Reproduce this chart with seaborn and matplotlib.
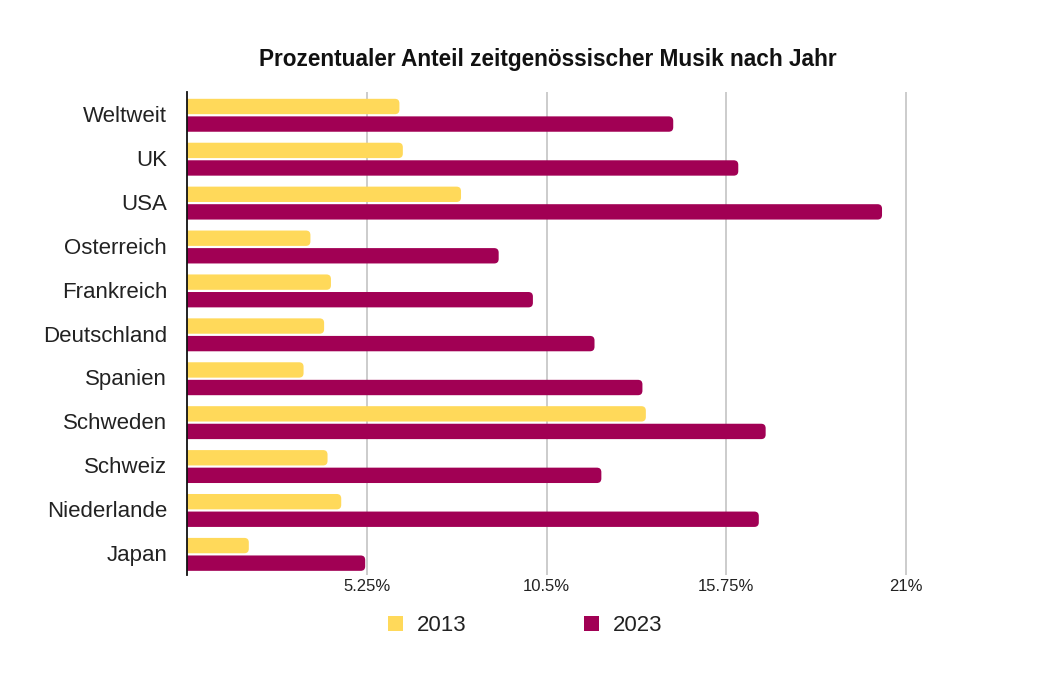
import matplotlib
matplotlib.use("Agg")
import matplotlib.pyplot as plt
import seaborn as sns
import pandas as pd
from matplotlib.patches import FancyBboxPatch, Patch
from matplotlib.ticker import FixedLocator

countries = ["Weltweit", "UK", "USA", "Osterreich", "Frankreich", "Deutschland",
             "Spanien", "Schweden", "Schweiz", "Niederlande", "Japan"]
values_2013 = [6.2, 6.3, 8.0, 3.6, 4.2, 4.0, 3.4, 13.4, 4.1, 4.5, 1.8]
values_2023 = [14.2, 16.1, 20.3, 9.1, 10.1, 11.9, 13.3, 16.9, 12.1, 16.7, 5.2]
years = ["2013", "2023"]
tick_values = [5.25, 10.5, 15.75, 21]
tick_labels = ["5.25%", "10.5%", "15.75%", "21%"]
title = "Prozentualer Anteil zeitgenössischer Musik nach Jahr"

colors = {"2013": "#FFD95A", "2023": "#A10054"}

df = pd.DataFrame({
    "Land": countries * 2,
    "Jahr": ["2013"] * len(countries) + ["2023"] * len(countries),
    "Anteil": values_2013 + values_2023,
})

sns.set_theme(style="white")
plt.rcParams["font.family"] = ["Liberation Sans", "DejaVu Sans"]

fig = plt.figure(figsize=(10.4, 6.8), dpi=100)
ax = fig.add_axes([0.18, 0.1544, 0.78, 0.7103])

sns.barplot(data=df, y="Land", x="Anteil", hue="Jahr", order=countries,
            hue_order=years, palette=colors, orient="h", width=0.8,
            ax=ax, legend=False, saturation=1)

ax.set_xlim(0, 23.7)
ax.set_ylim(len(countries) - 0.5, -0.5)

# replace bars with rounded-end versions
px_x = 34.33
px_y = 43.9
r = 4.5 / px_x
aspect = (4.5 / px_y) / r
old = list(ax.patches)
for p in old:
    x0 = p.get_x()
    w = p.get_width()
    h = p.get_height()
    cy = p.get_y() + h / 2 + 0.03
    nh = 0.35
    fc = p.get_facecolor()
    p.remove()
    fb = FancyBboxPatch((x0 - 0.3, cy - nh / 2), w + 0.3, nh,
                        boxstyle=f"round,pad=0,rounding_size={r}",
                        mutation_aspect=aspect, facecolor=fc, edgecolor="none",
                        linewidth=0, zorder=2)
    ax.add_patch(fb)

ax.xaxis.set_major_locator(FixedLocator(tick_values))
ax.set_xticklabels(tick_labels)
ax.grid(axis="x", color="#c4c4c4", linewidth=1.2, zorder=0)
ax.grid(axis="y", visible=False)
ax.set_axisbelow(True)

for s in ["top", "right", "bottom"]:
    ax.spines[s].set_visible(False)
ax.spines["left"].set_color("#111111")
ax.spines["left"].set_linewidth(1.3)
ax.spines["left"].set_zorder(5)

ax.tick_params(axis="y", length=0, pad=14.5, labelsize=16, labelcolor="#222222")
ax.tick_params(axis="x", length=0, pad=3, labelsize=12, labelcolor="#222222")
ax.set_xlabel("")
ax.set_ylabel("")

fig.text(0.527, 0.912, title, ha="center", va="center", fontsize=16.3,
         fontweight="bold", color="#111111")

handles = [Patch(facecolor=colors[y], edgecolor="none") for y in years]
fig.legend(handles, years, loc="center", bbox_to_anchor=(0.505, 0.08), ncol=2,
           frameon=False, fontsize=16, handlelength=0.68, handleheight=0.68,
           handletextpad=0.63, columnspacing=5.3, labelcolor="#222222")

fig.savefig("out.png", dpi=100, facecolor="white")
